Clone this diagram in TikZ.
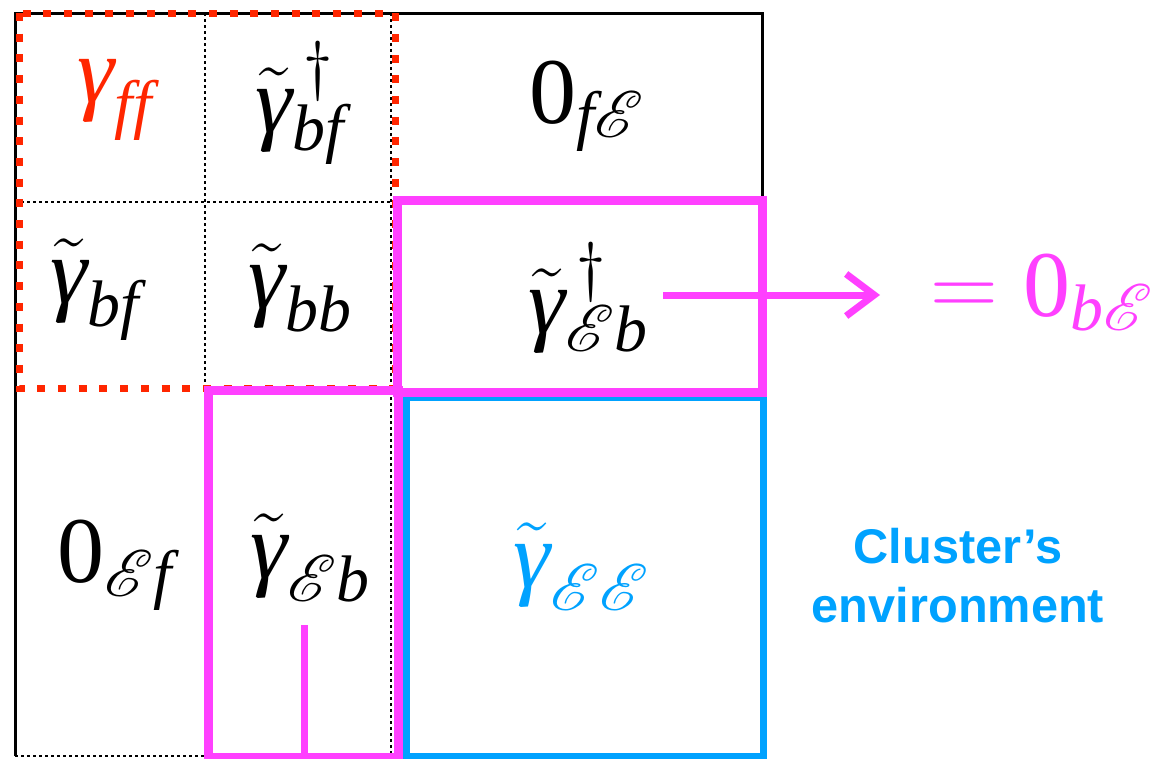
\RequirePackage{fix-cm}
\documentclass[tikz,border=0pt]{standalone}
\usepackage{amsmath}
\usepackage[no-math]{fontspec}
\usepackage{mathrsfs}
\DeclareFontFamily{U}{rsfs}{\skewchar\font127 }
\DeclareFontShape{U}{rsfs}{m}{n}{<-6> rsfs5 <6-8> rsfs7 <8-> rsfs10}{}
\usetikzlibrary{arrows.meta}
\newfontfamily\helv{Liberation Sans}
\newfontfamily\tms{Liberation Serif}
\newcommand{\tmi}[1]{\text{\tms\itshape #1}}
\newcommand{\tmr}[1]{\text{\tms #1}}
\definecolor{mag}{HTML}{FF40FF}
\definecolor{redd}{HTML}{FF2600}
\definecolor{bluu}{HTML}{00A2FF}
\tikzset{
  cell/.style={font=\fontsize{94}{100}\selectfont, inner sep=0pt},
  envtext/.style={font=\helv\bfseries\fontsize{48.7}{59}\selectfont, text=bluu, inner sep=0pt},
  gridline/.style={black, line width=1.5pt, dash pattern=on 3pt off 3pt},
  frameline/.style={black, line width=3pt},
  clusterbox/.style={draw=redd, line width=7pt, dash pattern=on 8pt off 12.7pt},
  magbox/.style={draw=mag, line width=9pt},
  envbox/.style={draw=bluu, line width=7pt},
  magline/.style={draw=mag, line width=7pt},
  arrowline/.style={draw=mag, line width=7pt, -{Straight Barb[length=28pt,width=42pt,line width=7pt]}},
}
\begin{document}
\begin{tikzpicture}[x=1pt,y=-1pt]
\useasboundingbox (0,0) rectangle (1157,758);
% grid coordinates
\coordinate (TL) at (15,13);
\coordinate (TR) at (762,13);
\coordinate (BL) at (15,756);
\coordinate (c1t) at (205,13);
\coordinate (c1m) at (205,388);
\coordinate (c1b) at (205,756);
\coordinate (c2t) at (391,13);
\coordinate (c2b) at (391,756);
\coordinate (r1l) at (15,202);
\coordinate (r1r) at (393,202);
\coordinate (Rmid) at (762,200);
% thin dotted grid
\draw[gridline] (c1t) -- (c1m);
\draw[gridline] (c2t) -- (c2b);
\draw[gridline] (r1l) -- (r1r);
\draw[gridline] (BL) -- (c1b);
% black frame
\draw[frameline] (BL) -- (TL) -- (TR) -- (Rmid);
% red dotted cluster box
\coordinate (red1) at (19,13);
\coordinate (red2) at (395,388);
\draw[clusterbox] (red1) rectangle (red2);
% blue environment box
\coordinate (blu1) at (406,397);
\coordinate (blu2) at (763,756);
\draw[envbox] (blu1) rectangle (blu2);
% magenta boxes
\coordinate (m11) at (397,200);
\coordinate (m12) at (762,392);
\draw[magbox] (m11) rectangle (m12);
\coordinate (m21) at (208,390);
\coordinate (m22) at (398,757);
\draw[magbox] (m21) rectangle (m22);
\coordinate (v1) at (304,625);
\coordinate (v2) at (304,760);
\draw[magline] (v1) -- (v2);
% arrow
\coordinate (a1) at (663,295);
\coordinate (a2) at (880,295);
\draw[arrowline] (a1) -- (a2);
% cell texts
\node[cell, text=redd] (gff) at (115,100) {$\tmi{γ}_{\tmi{ff}}$};
\node[cell] (gbfd) at (300,103) {$\tilde{\tmi{γ}}^{\,\dagger}_{\tmi{bf}}$};
\node[cell] (zfE) at (587,106) {$\tmr{0}_{\tmi{f}\mathscr{E}}$};
\node[cell] (gbf) at (95,290) {$\tilde{\tmi{γ}}_{\tmi{bf}}$};
\node[cell] (gbb) at (300,288) {$\tilde{\tmi{γ}}_{\tmi{bb}}$};
\node[cell] (gEbd) at (588,298) {$\tilde{\tmi{γ}}^{\,\dagger}_{\mathscr{E}\tmi{b}}$};
\node[cell] (zEf) at (115,565) {$\tmr{0}_{\mathscr{E}\tmi{f}}$};
\node[cell] (gEb) at (310,558) {$\tilde{\tmi{γ}}_{\mathscr{E}\tmi{b}}$};
\node[cell, text=bluu] (gEE) at (581,567) {$\tilde{\tmi{γ}}_{\mathscr{E}\mathscr{E}}$};
% right-hand texts
\node[cell, text=mag, anchor=base west] (eq) at (930,316) {$=\tmr{0}_{\tmi{b}\mathscr{E}}$};
\node[envtext, anchor=base] (env1) at (958,563) {Cluster’s};
\node[envtext, anchor=base] (env2) at (958,622) {environment};
\end{tikzpicture}
\end{document}
